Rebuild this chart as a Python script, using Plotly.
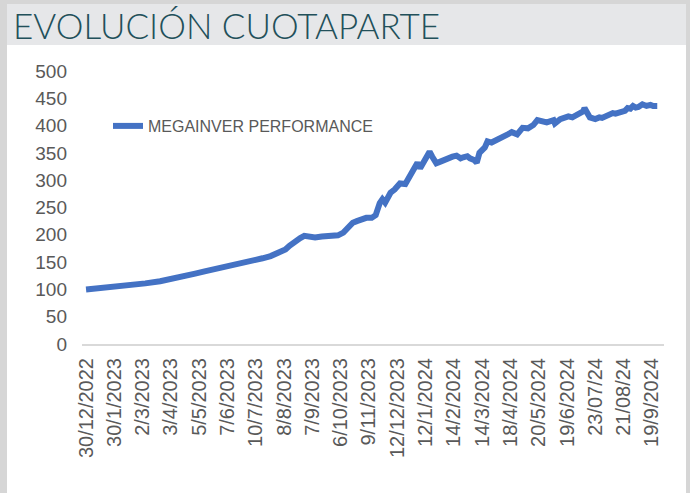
import plotly.graph_objects as go

# ---- data ----
day_index = [0, 10, 22, 33, 44, 55, 66, 73, 81, 88, 96, 103, 111, 118, 125, 131, 137, 142,
             148, 151, 155, 159, 162, 166, 170, 175, 181, 187, 191, 194, 198, 201, 205, 208,
             212, 215, 218, 220, 222, 226, 229, 233, 237, 240, 244, 246, 248, 250, 253, 255,
             257, 260, 263, 268, 272, 275, 278, 280, 283, 285, 288, 290, 292, 296, 298, 301,
             303, 307, 309, 313, 316, 320, 322, 324, 328, 332, 335, 339, 342, 347, 348, 352,
             355, 358, 361, 365, 369, 370, 372, 374, 378, 381, 383, 385, 387, 389, 391, 393,
             396, 398, 400, 402, 404, 406, 408, 410, 413, 416, 419, 421, 424, 426]
cuotaparte = [100, 102, 105, 108, 111, 115, 120, 124, 129, 133, 137, 142, 146, 150, 154, 157,
              161, 166, 173, 180, 188, 194, 198, 197, 195, 197, 198, 199, 204, 213, 222, 225,
              229, 231, 231, 236, 258, 265, 259, 277, 283, 294, 293, 306, 328, 332, 322, 330,
              345, 352, 343, 331, 334, 340, 343, 345, 340, 342, 344, 340, 337, 332, 350, 360,
              371, 369, 372, 376, 378, 384, 388, 384, 390, 396, 395, 401, 410, 407, 406, 410,
              404, 412, 415, 417, 415, 420, 426, 432, 421, 415, 412, 415, 414, 417, 419, 420,
              423, 422, 425, 426, 427, 432, 431, 436, 433, 434, 439, 436, 438, 436, 436]
tick_index = [0, 21, 42, 63, 84, 105, 126, 147, 168, 189, 210, 231, 252, 273, 294, 315, 336,
              357, 378, 399, 420]
tick_labels = ["30/12/2022", "30/1/2023", "2/3/2023", "3/4/2023", "5/5/2023", "7/6/2023",
               "10/7/2023", "8/8/2023", "7/9/2023", "6/10/2023", "9/11/2023", "12/12/2023",
               "12/1/2024", "14/2/2024", "14/3/2024", "18/4/2024", "20/5/2024", "19/6/2024",
               "23/07/24", "21/08/24", "19/9/2024"]
series_name = "MEGAINVER PERFORMANCE"
title_text = "EVOLUCIÓN CUOTAPARTE"

# ---- layout geometry ----
W, H = 690, 493
ML, MR, MT, MB = 82, 26, 71, 149
PW, PH = W - ML - MR, H - MT - MB


def px(x):
    return (x - ML) / PW


def py(y):
    return (H - MB - y) / PH


fig = go.Figure()
fig.add_trace(go.Scatter(
    x=day_index, y=cuotaparte, mode="lines", name=series_name,
    line=dict(color="#4472C4", width=6, shape="linear"),
    hoverinfo="skip",
))

border = "#D6D6D6"
band = "#E6E7E9"
shapes = [
    dict(type="rect", xref="paper", yref="paper", x0=px(0), x1=px(W), y0=py(0), y1=py(4),
         fillcolor=border, line=dict(width=0), layer="below"),
    dict(type="rect", xref="paper", yref="paper", x0=px(7), x1=px(686), y0=py(4), y1=py(45),
         fillcolor=band, line=dict(width=0), layer="below"),
    dict(type="rect", xref="paper", yref="paper", x0=px(0), x1=px(7), y0=py(0), y1=py(H),
         fillcolor=border, line=dict(width=0), layer="below"),
    dict(type="rect", xref="paper", yref="paper", x0=px(686), x1=px(W), y0=py(0), y1=py(H),
         fillcolor=border, line=dict(width=0), layer="below"),
]

fig.update_layout(
    width=W, height=H,
    margin=dict(l=ML, r=MR, t=MT, b=MB, autoexpand=False),
    paper_bgcolor="white", plot_bgcolor="white",
    shapes=shapes,
    showlegend=True,
    legend=dict(x=px(108), y=py(126), xanchor="left", yanchor="middle",
                bgcolor="rgba(0,0,0,0)", font=dict(family="Liberation Sans", size=16, color="#595959")),
    annotations=[dict(text=title_text, xref="paper", yref="paper", x=px(11), y=py(25),
                      xanchor="left", yanchor="middle", showarrow=False,
                      font=dict(family="Lato", size=35, color="#22505A", weight=300))],
    xaxis=dict(range=[-3, 429], tickmode="array", tickvals=tick_index, ticktext=tick_labels,
               tickangle=-90, showgrid=False, zeroline=False, showline=True,
               linecolor="#D9D9D9", linewidth=2, ticks="", ticklabelstandoff=4,
               tickfont=dict(family="Liberation Sans", size=20, color="#595959")),
    yaxis=dict(range=[0, 500], tickmode="array", tickvals=list(range(0, 501, 50)),
               showgrid=False, zeroline=False, showline=False, ticks="",
               ticklabelstandoff=14,
               tickfont=dict(family="Liberation Sans", size=19, color="#595959")),
)

fig.write_html("out.html", config={"displayModeBar": False},
               post_script="document.body.style.margin='0';document.body.style.overflow='hidden';")
